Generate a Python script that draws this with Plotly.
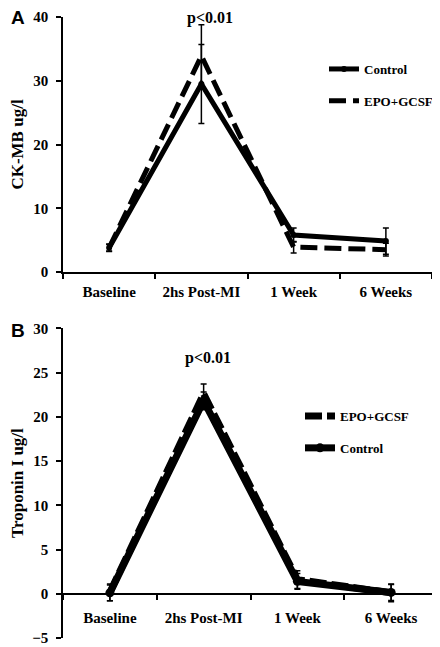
import plotly.graph_objects as go

# the page draws the figure inside the default 8px body margin
OFF = 8
W, H = 440 - OFF, 647 - OFF

categories = ["Baseline", "2hs Post-MI", "1 Week", "6 Weeks"]

# Panel A: CK-MB
ckmb_control = [3.8, 29.5, 5.8, 4.85]
ckmb_control_err = [0.6, 6.2, 1.1, 2.05]
ckmb_epo = [3.8, 33.9, 3.9, 3.5]
ckmb_epo_err = [0.5, 4.9, 0.9, 1.0]

# Panel B: Troponin I
trop_epo = [0.15, 22.6, 1.6, 0.1]
trop_epo_err = [0.95, 1.1, 1.0, 1.0]
trop_control = [0.1, 21.8, 1.4, 0.15]
trop_control_err = [0.9, 1.0, 0.9, 0.9]

ya_ticks = [0, 10, 20, 30, 40]
yb_ticks = [-5, 0, 5, 10, 15, 20, 25, 30]

SERIF = "Liberation Serif"
SANS = "Liberation Sans"

def px(xp):
    return (xp - OFF) / W

def py(yp):
    return 1 - (yp - OFF) / H

fig = go.Figure()

def err(arr):
    return dict(type="data", array=arr, color="black", thickness=1.5, width=3, visible=True)

fig.add_trace(go.Scatter(
    x=categories, y=ckmb_control, name="Control", mode="lines+markers",
    line=dict(color="black", width=5), marker=dict(size=6, color="black"),
    error_y=err(ckmb_control_err), xaxis="x", yaxis="y", legend="legend",
    legendgroup="a1", legendrank=1))
fig.add_trace(go.Scatter(
    x=categories, y=ckmb_epo, name="EPO+GCSF", mode="lines",
    line=dict(color="black", width=5, dash="17px,7px"),
    error_y=err(ckmb_epo_err), xaxis="x", yaxis="y", legend="legend",
    legendgroup="a2", legendrank=2))

fig.add_trace(go.Scatter(
    x=categories, y=trop_control, name="Control", mode="lines+markers",
    line=dict(color="black", width=7), marker=dict(size=9, color="black"),
    error_y=err(trop_control_err), xaxis="x2", yaxis="y2", legend="legend2",
    legendgroup="b2", legendrank=2))
fig.add_trace(go.Scatter(
    x=categories, y=trop_epo, name="EPO+GCSF", mode="lines",
    line=dict(color="black", width=7, dash="17px,5px"),
    error_y=err(trop_epo_err), xaxis="x2", yaxis="y2", legend="legend2",
    legendgroup="b1", legendrank=1))

tickfont = dict(family=SERIF, size=15, color="black", weight="bold")
catfont = dict(family=SERIF, size=15, color="black", weight="bold")
titlefont = dict(family=SERIF, size=17, color="black", weight="bold")
legfont = dict(family=SERIF, size=13, color="black", weight="bold")

a_y0, a_y1 = 272, 17
b_y0, b_y1 = 638, 328.3
b_zero = b_y0 - (b_y0 - b_y1) * 5 / 35

common_x = dict(type="category", categoryorder="array", categoryarray=categories,
                range=[-0.5, 3.5], showline=True, linecolor="black", linewidth=1.5,
                showgrid=False, zeroline=False, ticks="outside", ticklen=5,
                tickwidth=1.5, tickcolor="black", tickson="boundaries",
                tickfont=catfont, automargin=False, ticklabeloverflow="allow")
common_y = dict(showline=True, linecolor="black", linewidth=1.5, showgrid=False,
                zeroline=False, ticks="outside", ticklen=5, tickwidth=1.5,
                tickcolor="black", tickfont=tickfont, automargin=False,
                ticklabelstandoff=5, ticklabeloverflow="allow")

fig.update_layout(
    width=W, height=H, margin=dict(l=0, r=0, t=0, b=0, pad=0, autoexpand=False),
    paper_bgcolor="white", plot_bgcolor="white",
    showlegend=True,
    xaxis=dict(domain=[px(63), px(432)], anchor="y", ticklabelstandoff=5, **common_x),
    yaxis=dict(domain=[py(a_y0), py(a_y1)], range=[0, 40], tickvals=ya_ticks,
               anchor="x", title=dict(text="CK-MB ug/l", font=titlefont, standoff=6),
               **common_y),
    xaxis2=dict(domain=[px(63), px(438)], anchor="free", position=py(b_zero),
                ticklabelstandoff=10, **common_x),
    yaxis2=dict(domain=[py(b_y0), py(b_y1)], range=[-5, 30], tickvals=yb_ticks,
                anchor="x2", title=dict(text="Troponin I ug/l", font=titlefont, standoff=6),
                **common_y),
    legend=dict(x=px(324), y=py(54), xanchor="left", yanchor="top", font=legfont,
                bgcolor="rgba(0,0,0,0)", tracegroupgap=12, traceorder="grouped"),
    legend2=dict(x=px(300), y=py(401), xanchor="left", yanchor="top", font=legfont,
                 bgcolor="rgba(0,0,0,0)", tracegroupgap=12, traceorder="grouped"),
    annotations=[
        dict(text="A", x=px(9), y=py(5), xref="paper", yref="paper", xanchor="left",
             yanchor="top", showarrow=False,
             font=dict(family=SANS, size=19, color="black", weight="bold")),
        dict(text="B", x=px(9), y=py(318), xref="paper", yref="paper", xanchor="left",
             yanchor="top", showarrow=False,
             font=dict(family=SANS, size=19, color="black", weight="bold")),
        dict(text="p<0.01", x=px(210), y=py(18), xref="paper", yref="paper",
             xanchor="center", yanchor="middle", showarrow=False,
             font=dict(family=SERIF, size=16, color="black", weight="bold")),
        dict(text="p<0.01", x=px(208), y=py(358), xref="paper", yref="paper",
             xanchor="center", yanchor="middle", showarrow=False,
             font=dict(family=SERIF, size=16, color="black", weight="bold")),
    ],
)

fig.write_html("out.html")
